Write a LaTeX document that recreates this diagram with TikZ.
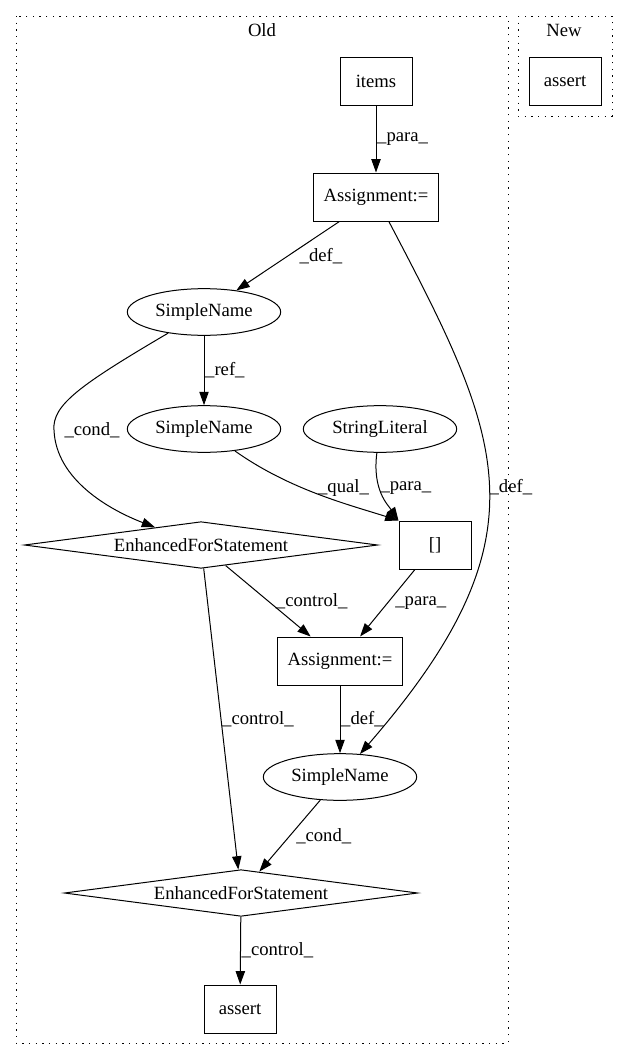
\documentclass[tikz,border=0pt]{standalone}
\usepackage{fontspec}
\setmainfont{Liberation Serif}
\usepackage{tikz}
\usetikzlibrary{shapes.geometric}
\usetikzlibrary{arrows.meta}

\begin{document}
\begin{tikzpicture}[x=0.75pt,y=-0.75pt,
    every node/.style={font=\fontsize{14}{16}\selectfont},
    boite/.style={draw, line width=0.75pt, minimum width=54pt, minimum height=36pt, inner xsep=7.5pt},
    nom/.style={draw, ellipse, line width=0.75pt, minimum width=115pt, minimum height=35pt, inner xsep=3pt},
    losange/.style={draw, diamond, aspect=7.5, line width=0.75pt, minimum width=265pt, minimum height=35pt, inner sep=0pt},
    fleche/.style={-{Triangle[length=10pt,width=7pt]}, line width=0.75pt},
    lbl/.style={anchor=west, inner sep=0.5pt},
    groupe/.style={dash pattern=on 1pt off 4pt, line width=0.75pt}]
                \useasboundingbox (0,0) rectangle (629,1060);

                % groupes
                \draw[groupe] (16,16) rectangle (508,1043);
                \node (old) at (262,30) {Old};
                \draw[groupe] (518,16) rectangle (612,116);
                \node (new) at (564,30) {New};

                % noeuds
                \node[boite] (items) at (376,81) {items};
                \node[boite] (as1) at (376,197) {Assignment:=};
                \node[nom] (sn1) at (204,312) {SimpleName};
                \node[nom] (sn2) at (204,429) {SimpleName};
                \node[nom] (sl) at (380,429) {StringLiteral};
                \node[losange] (efs1) at (201,545) {EnhancedForStatement};
                \node[boite] (br) at (435,545) {[]};
                \node[boite] (as2) at (340,661) {Assignment:=};
                \node[nom] (sn3) at (340,777) {SimpleName};
                \node[losange] (efs2) at (241,893) {EnhancedForStatement};
                \node[boite] (assert1) at (240,1009) {assert};
                \node[boite] (assert2) at (565,81) {assert};

                % arêtes
                \draw[fleche] (items) -- node[lbl] {\_para\_} (as1);
                \draw[fleche] (as1) -- node[lbl, xshift=8pt] {\_def\_} (sn1);
                \draw[fleche] (as1) .. controls (503,439) and (550,535) .. (sn3) node[lbl, pos=.5] {\_def\_};
                \draw[fleche] (sn1) -- node[lbl] {\_ref\_} (sn2);
                \draw[fleche] (sn1) .. controls (80,385) and (52,405) .. (54,430) node[lbl, xshift=7pt] {\_cond\_}
                    .. controls (56,480) and (110,510) .. (efs1);
                \draw[fleche] (sn2) .. controls (290,490) and (350,505) .. (br.north west) node[lbl, pos=.4, xshift=11pt] {\_qual\_};
                \draw[fleche] (sl) .. controls (372,490) and (388,505) .. (br.north west) node[lbl, pos=.4] {\_para\_};
                \draw[fleche] (efs1) -- node[lbl, xshift=5pt] {\_control\_} (as2);
                \draw[fleche] (br) -- node[lbl, xshift=5pt] {\_para\_} (as2);
                \draw[fleche] (efs1) -- node[lbl] {\_control\_} (efs2);
                \draw[fleche] (as2) -- node[lbl] {\_def\_} (sn3);
                \draw[fleche] (sn3) -- node[lbl, xshift=4pt] {\_cond\_} (efs2);
                \draw[fleche] (efs2) -- node[lbl] {\_control\_} (assert1);
            \end{tikzpicture}
\end{document}
